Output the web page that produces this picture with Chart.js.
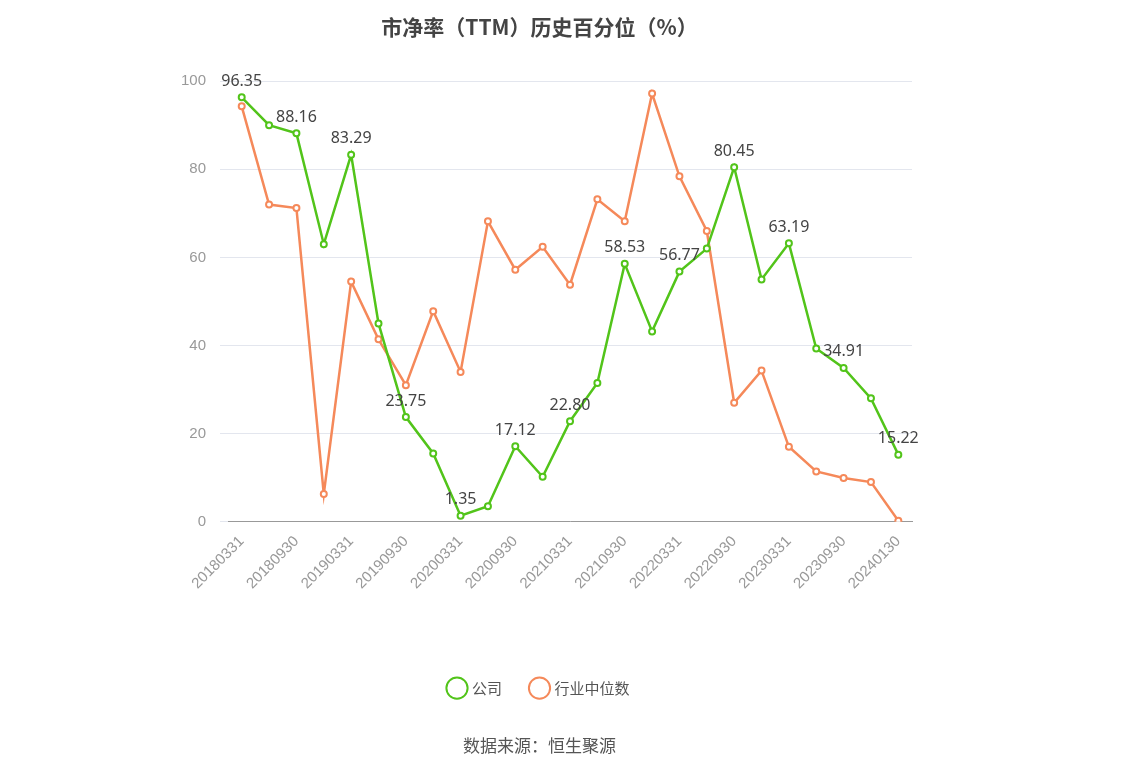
<!DOCTYPE html><html><head><meta charset="utf-8">
<script src="https://cdn.jsdelivr.net/npm/chart.js@4"></script>
<style>body{margin:0;background:#fff}#w{width:1148px;height:776px;position:relative}</style></head><body>
<div id="w"><canvas id="c"></canvas></div>
<script>
const categories=["20180331","20180630","20180930","20181231","20190331","20190630","20190930","20191231","20200331","20200630","20200930","20201231","20210331","20210630","20210930","20211231","20220331","20220630","20220930","20221231","20230331","20230630","20230930","20231231","20240130"];
const company=[96.35,90,88.16,63,83.29,45,23.75,15.5,1.35,3.5,17.12,10.2,22.80,31.5,58.53,43.2,56.77,62,80.45,55,63.19,39.3,34.91,28,15.22];
const industry=[94.3,72,71.2,6.3,54.5,41.4,31,47.8,34,68.2,57.2,62.4,53.8,73.2,68.2,97.2,78.4,66,27,34.3,17,11.4,9.9,9,0.2];
const yTicks=[0,20,40,60,80,100];
const labelPlugin={id:'lbl',afterDatasetsDraw(ch){const ctx=ch.ctx;const m=ch.getDatasetMeta(0);ctx.save();ctx.font='16px "Noto Sans", sans-serif';ctx.fillStyle='#444';ctx.textAlign='center';ctx.textBaseline='bottom';
m.data.forEach((p,i)=>{if(i%2===0)ctx.fillText(company[i].toFixed(2),p.x,p.y-8);});ctx.restore();}};
new Chart(document.getElementById('c'),{type:'line',data:{labels:categories,datasets:[
{label:'公司',data:company,borderColor:'#52c41a',backgroundColor:'#fff',borderWidth:2.5,pointRadius:3,pointBorderWidth:2,pointBackgroundColor:'#fff',tension:0},
{label:'行业中位数',data:industry,borderColor:'#f5895a',backgroundColor:'#fff',borderWidth:2.5,pointRadius:3,pointBorderWidth:2,pointBackgroundColor:'#fff',tension:0}]},
options:{responsive:true,maintainAspectRatio:false,animation:false,
layout:{padding:{left:167,right:236,top:10,bottom:20}},
plugins:{title:{display:true,text:'市净率（TTM）历史百分位（%）',font:{size:21,weight:'bold',family:'"Noto Sans CJK SC"'},color:'#444',padding:{top:4,bottom:42}},
legend:{position:'bottom',labels:{usePointStyle:true,pointStyle:'circle',font:{size:15,family:'"Noto Sans CJK SC"'},color:'#555',padding:30},},
subtitle:{display:true,position:'bottom',text:'数据来源：恒生聚源',font:{size:17,family:'"Noto Sans CJK SC"'},color:'#555',padding:{top:30,bottom:0}},tooltip:{enabled:false}},
scales:{x:{offset:true,grid:{display:false},border:{color:'#999'},afterFit:s=>{s.height+=55;},ticks:{autoSkip:false,maxRotation:45,minRotation:45,color:'#999',font:{size:15},callback:(v,i)=>i%2===0?categories[i]:''}},
y:{min:0,max:100,afterBuildTicks:a=>{a.ticks=yTicks.map(v=>({value:v}));},grid:{color:'#e3e6ee'},border:{display:false},ticks:{color:'#999',font:{size:15},padding:14}}}},
plugins:[labelPlugin]});
</script></body></html>
